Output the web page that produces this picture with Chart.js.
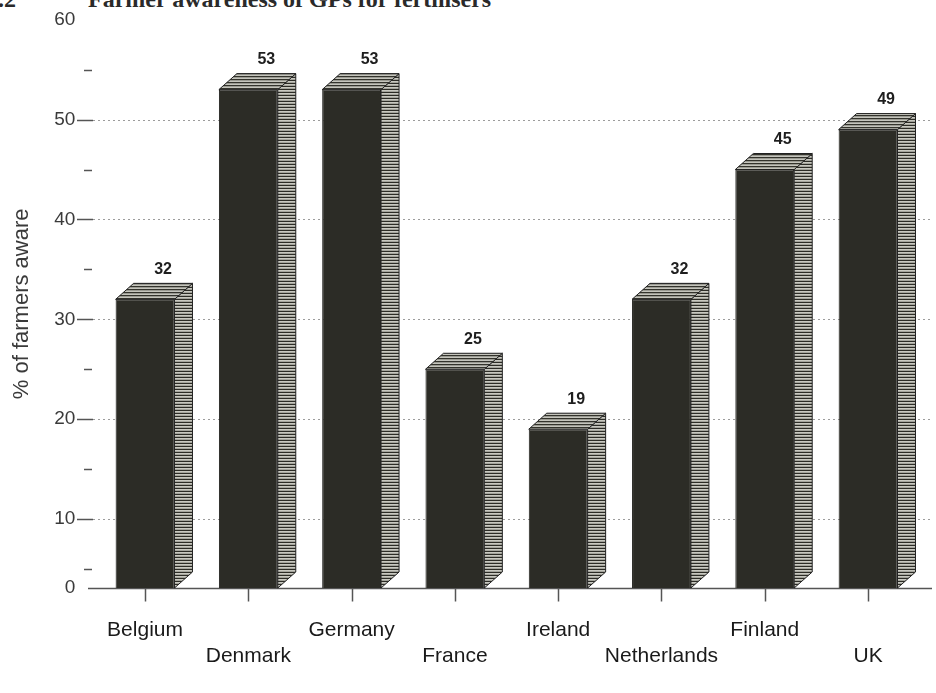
<!DOCTYPE html>
<html>
<head>
<meta charset="utf-8">
<script src="https://cdn.jsdelivr.net/npm/chart.js@4.4.1/dist/chart.umd.min.js"></script>
<style>
  html, body { margin: 0; padding: 0; background: #fff; overflow: hidden; }
  #wrap { position: relative; width: 936px; height: 693px; overflow: hidden; }
  #cv { position: absolute; left: 0; top: 0; }
  .ttl { position: absolute; top: -13px; font: bold 24px/24px "Liberation Serif", "Times New Roman", serif; color: #2a2a2a; white-space: nowrap; }
</style>
</head>
<body>
<div id="wrap">
  <div class="ttl" style="left:-14px">9.2</div>
  <div class="ttl" style="left:88px">Farmer awareness of GPs for fertilisers</div>
  <canvas id="cv" width="936" height="693"></canvas>
</div>
<script>
// Share of farmers aware, by country (%)
const countries = ['Belgium', 'Denmark', 'Germany', 'France', 'Ireland', 'Netherlands', 'Finland', 'UK'];
const awarePct = [32, 53, 53, 25, 19, 32, 45, 49];

// Y axis: labelled ticks every 10, short marks every 5
const yLabelled = [10, 20, 30, 40, 50, 60];
const yMinor = [5, 15, 25, 35, 45, 55];
const yGridLines = [10, 20, 30, 40, 50];
const Y_MAX = 60;
// floor of the 3-D box, where the "0" label sits
const AXIS_FLOOR = 3.1;

const DEPTH_X = 18, DEPTH_Y = 16;
const INK = '#3a3a3a';
const SANS = '"Liberation Sans", Arial, sans-serif';

function stripePattern(ctx, rows) {
  const c = document.createElement('canvas');
  c.width = 8; c.height = rows.length;
  const g = c.getContext('2d');
  rows.forEach((col, i) => { g.fillStyle = col; g.fillRect(0, i, 8, 1); });
  return ctx.createPattern(c, 'repeat');
}

// gridlines, axis floor and tick marks, drawn beneath the bars
const axisDecor = {
  id: 'axisDecor',
  beforeDatasetsDraw(chart) {
    const { ctx } = chart;
    const ys = chart.scales.y, xs = chart.scales.x;
    ctx.save();
    ctx.strokeStyle = '#9c9c9c';
    ctx.lineWidth = 1;
    ctx.setLineDash([2, 3]);
    yGridLines.forEach(v => {
      const py = Math.round(ys.getPixelForValue(v)) + 0.5;
      ctx.beginPath(); ctx.moveTo(93, py); ctx.lineTo(932, py); ctx.stroke();
    });
    ctx.setLineDash([]);
    ctx.strokeStyle = '#555';
    ctx.lineWidth = 1.5;
    yGridLines.forEach(v => {
      const py = Math.round(ys.getPixelForValue(v)) + 0.5;
      ctx.beginPath(); ctx.moveTo(77, py); ctx.lineTo(93, py); ctx.stroke();
    });
    yMinor.forEach(v => {
      const py = Math.round(ys.getPixelForValue(v)) + 0.5;
      ctx.beginPath(); ctx.moveTo(84, py); ctx.lineTo(92, py); ctx.stroke();
    });
    const floorY = Math.round(ys.getPixelForValue(AXIS_FLOOR)) + 0.5;
    ctx.beginPath(); ctx.moveTo(88, floorY); ctx.lineTo(932, floorY); ctx.stroke();
    countries.forEach((_, i) => {
      const px = Math.round(xs.getPixelForValue(i)) + 0.5;
      ctx.beginPath(); ctx.moveTo(px, floorY); ctx.lineTo(px, floorY + 13); ctx.stroke();
    });
    ctx.restore();
  }
};

// side and top faces of each bar, plus its value
const bar3d = {
  id: 'bar3d',
  afterDatasetsDraw(chart) {
    const ctx = chart.ctx;
    const floorPx = chart.scales.y.getPixelForValue(AXIS_FLOOR);
    const sidePat = stripePattern(ctx, ['#c8c8c0', '#a4a49c', '#2c2c26']);
    const topPat = stripePattern(ctx, ['#c4c4bc', '#33332c', '#9a9a92']);
    const meta = chart.getDatasetMeta(0);
    ctx.save();
    meta.data.forEach((bar, i) => {
      const { x, y, width } = bar.getProps(['x', 'y', 'width'], true);
      const base = floorPx;
      const l = x - width / 2, r = x + width / 2;
      ctx.strokeStyle = '#222';
      ctx.lineWidth = 1;
      ctx.beginPath();
      ctx.moveTo(r, y); ctx.lineTo(r + DEPTH_X, y - DEPTH_Y);
      ctx.lineTo(r + DEPTH_X, base - DEPTH_Y); ctx.lineTo(r, base); ctx.closePath();
      ctx.fillStyle = sidePat; ctx.fill(); ctx.stroke();
      ctx.beginPath();
      ctx.moveTo(l, y); ctx.lineTo(l + DEPTH_X, y - DEPTH_Y);
      ctx.lineTo(r + DEPTH_X, y - DEPTH_Y); ctx.lineTo(r, y); ctx.closePath();
      ctx.fillStyle = topPat; ctx.fill(); ctx.stroke();
      ctx.fillStyle = '#1e1e1e';
      ctx.font = 'bold 16px ' + SANS;
      ctx.textAlign = 'center';
      ctx.textBaseline = 'middle';
      ctx.fillText(String(awarePct[i]), x + DEPTH_X, y - DEPTH_Y - 14);
    });
    ctx.restore();
  }
};

new Chart(document.getElementById('cv'), {
  type: 'bar',
  data: {
    labels: countries,
    datasets: [{
      data: awarePct,
      base: AXIS_FLOOR,
      backgroundColor: '#2c2c26',
      borderColor: '#1c1c18',
      borderWidth: 1,
      barPercentage: 0.57,
      categoryPercentage: 1
    }]
  },
  options: {
    responsive: false,
    animation: false,
    devicePixelRatio: 1,
    layout: { padding: { top: 19.7, right: 16.3, left: 0, bottom: 0 } },
    plugins: { legend: { display: false }, tooltip: { enabled: false } },
    scales: {
      x: {
        grid: { display: false, drawTicks: false },
        border: { display: false },
        ticks: {
          autoSkip: false,
          maxRotation: 0,
          padding: 29,
          color: '#1a1a1a',
          font: { family: SANS, size: 21, lineHeight: 1.24 },
          callback: (v, i) => (i % 2 ? ['', countries[i]] : countries[i])
        },
        afterFit: s => { s.height = 105; }
      },
      y: {
        min: AXIS_FLOOR,
        max: Y_MAX,
        // tick marks are drawn by axisDecor; the tick length only spaces the labels
        grid: { display: false, drawTicks: true, tickLength: 18 },
        border: { display: false },
        afterBuildTicks: s => {
          s.ticks = [AXIS_FLOOR, ...yMinor, ...yLabelled].sort((a, b) => a - b).map(v => ({ value: v }));
        },
        ticks: {
          autoSkip: false,
          padding: 0,
          color: INK,
          font: { family: SANS, size: 19 },
          callback: v => (v === AXIS_FLOOR ? '0' : (yLabelled.includes(v) ? String(v) : ''))
        },
        title: {
          display: true,
          text: '% of farmers aware',
          color: INK,
          padding: { top: 9, bottom: 0 },
          font: { family: SANS, size: 22 }
        },
        afterFit: s => { s.width = 93.4; }
      }
    }
  },
  plugins: [axisDecor, bar3d]
});
</script>
</body>
</html>
